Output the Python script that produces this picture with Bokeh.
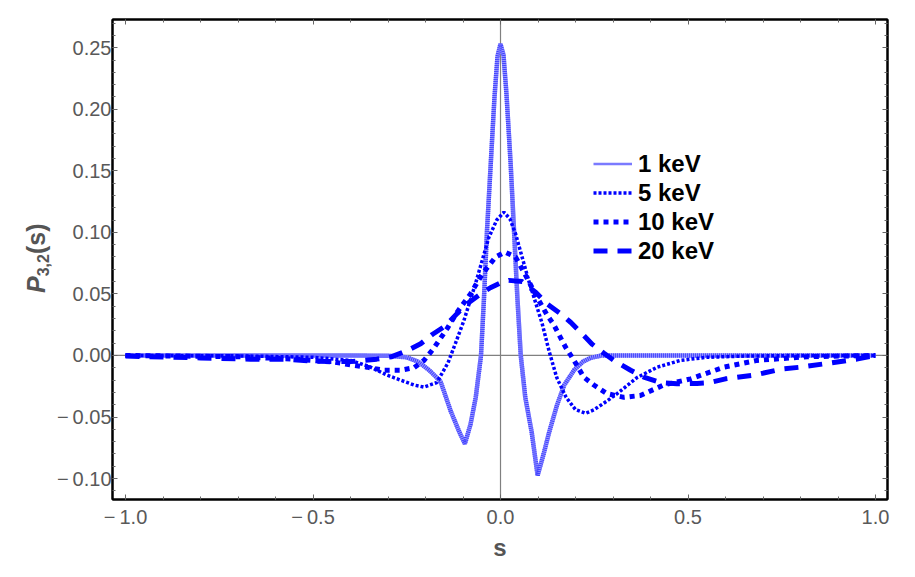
import numpy as np
from bokeh.plotting import figure
from bokeh.layouts import row
from bokeh.models import (Range1d, LinearAxis, FixedTicker, CustomJSTickFormatter,
                          Span, Legend, LegendItem, Div)
from bokeh.embed import file_html
from bokeh.resources import INLINE

# ---- data ----
s_1kev = [-1.0, -0.6, -0.4, -0.3, -0.25, -0.22, -0.19, -0.16, -0.133, -0.11, -0.095, -0.08,
          -0.066, -0.052, -0.044, -0.036, -0.026, -0.016, -0.008, 0.0, 0.008, 0.016, 0.027,
          0.036, 0.045, 0.054, 0.066, 0.083, 0.099, 0.115, 0.13, 0.151, 0.17, 0.196, 0.22,
          0.24, 0.27, 0.35, 0.5, 0.7, 1.0]
p_1kev = [0.0, 0.0, 0.0, -0.0003, -0.0015, -0.005, -0.012, -0.021, -0.045, -0.062, -0.0717,
          -0.056, -0.034, 0.0, 0.047, 0.1015, 0.156, 0.21, 0.243, 0.253, 0.244, 0.212, 0.156,
          0.1015, 0.047, 0.0, -0.034, -0.062, -0.0975, -0.080, -0.062, -0.040, -0.024,
          -0.012, -0.005, -0.002, 0.0, 0.0, 0.0, 0.0, 0.0]

s_5kev = [-1.0, -0.7, -0.5, -0.4, -0.35, -0.302, -0.267, -0.231, -0.204, -0.17, -0.14, -0.12,
          -0.098, -0.067, -0.031, -0.01, 0.009, 0.025, 0.04, 0.075, 0.111, 0.13, 0.15, 0.175,
          0.2, 0.227, 0.25, 0.284, 0.311, 0.364, 0.418, 0.48, 0.55, 0.65, 0.8, 1.0]
p_5kev = [0.0, -0.0003, -0.0015, -0.004, -0.009, -0.016, -0.020, -0.024, -0.0257, -0.022,
          -0.006, 0.010, 0.028, 0.058, 0.096, 0.110, 0.1164, 0.111, 0.099, 0.061, 0.026,
          0.003, -0.018, -0.034, -0.044, -0.047, -0.044, -0.037, -0.031, -0.018, -0.0095,
          -0.004, -0.0015, -0.0005, 0.0, 0.0]

s_10kev = [-1.0, -0.7, -0.55, -0.444, -0.4, -0.356, -0.311, -0.267, -0.231, -0.204, -0.18,
           -0.142, -0.116, -0.08, -0.049, -0.013, 0.012, 0.04, 0.067, 0.098, 0.124, 0.142,
           0.173, 0.196, 0.222, 0.249, 0.284, 0.329, 0.373, 0.435, 0.507, 0.596, 0.684,
           0.818, 1.0]
p_10kev = [0.0, -0.001, -0.003, -0.0054, -0.0076, -0.0095, -0.012, -0.012, -0.010, -0.004,
           0.005, 0.022, 0.035, 0.050, 0.066, 0.080, 0.084, 0.080, 0.065, 0.047, 0.033,
           0.025, 0.007, -0.004, -0.0176, -0.024, -0.031, -0.034, -0.0325, -0.024, -0.019,
           -0.0095, -0.004, -0.001, 0.0]

s_20kev = [-1.0, -0.8, -0.667, -0.578, -0.5, -0.45, -0.4, -0.33, -0.29, -0.249, -0.213,
           -0.182, -0.147, -0.116, -0.089, -0.053, -0.027, 0.0, 0.022, 0.058, 0.095, 0.124,
           0.16, 0.187, 0.213, 0.245, 0.275, 0.307, 0.347, 0.382, 0.427, 0.471, 0.524,
           0.555, 0.6, 0.676, 0.75, 0.8, 0.87, 0.95, 1.0]
p_20kev = [-0.0005, -0.002, -0.003, -0.003, -0.0045, -0.005, -0.005, -0.003, -0.001, 0.004,
           0.0095, 0.017, 0.024, 0.034, 0.042, 0.05, 0.055, 0.059, 0.061, 0.060, 0.051,
           0.042, 0.034, 0.027, 0.019, 0.009, 0.002, -0.005, -0.012, -0.0176, -0.022,
           -0.023, -0.0227, -0.0222, -0.019, -0.016, -0.011, -0.0095, -0.0065, -0.003, 0.0]

labels = ["1 keV", "5 keV", "10 keV", "20 keV"]
x_major = [-1.0, -0.5, 0.0, 0.5, 1.0]
y_major = [-0.10, -0.05, 0.0, 0.05, 0.10, 0.15, 0.20, 0.25]
x_title = "s"

# ---- figure ----
FONT = "Liberation Sans"
GRAY = "#595959"
LABEL_GRAY = "#555555"
DIV_W = 40
p = figure(frame_width=775, frame_height=480,
           min_border_left=112 - DIV_W, min_border_right=20, min_border_top=19,
           min_border_bottom=70,
           x_range=Range1d(-1.0347, 1.032), y_range=Range1d(-0.117, 0.2729),
           output_backend="svg", toolbar_location=None)
p.background_fill_color = "white"
p.border_fill_color = None
p.xgrid.visible = False
p.ygrid.visible = False
p.outline_line_color = "black"
p.outline_line_width = 2

x_minor = [round(v, 2) for v in np.arange(-1.1, 1.11, 0.1)]
y_minor = [round(v, 3) for v in np.arange(-0.12, 0.281, 0.01)]

fmt_x = CustomJSTickFormatter(code="""
const v = Math.abs(tick) < 1e-9 ? 0 : tick;
return (v < 0 ? '\\u2212\\u2009' : '') + Math.abs(v).toFixed(1);""")
fmt_y = CustomJSTickFormatter(code="""
const v = Math.abs(tick) < 1e-9 ? 0 : tick;
return (v < 0 ? '\\u2212\\u2009' : '') + Math.abs(v).toFixed(2);""")
fmt_none = CustomJSTickFormatter(code="return '';")


def style_axis(ax):
    ax.axis_line_color = "black"
    ax.axis_line_width = 2
    ax.major_tick_line_color = "#666666"
    ax.minor_tick_line_color = "#666666"
    ax.major_tick_in = 5
    ax.major_tick_out = 0
    ax.minor_tick_in = 3
    ax.minor_tick_out = 0
    ax.major_label_text_font = FONT
    ax.major_label_text_font_size = "20px"
    ax.major_label_text_color = GRAY


xa = p.xaxis[0]
xa.ticker = FixedTicker(ticks=x_major, minor_ticks=x_minor)
xa.formatter = fmt_x
style_axis(xa)
xa.major_label_standoff = 6
xa.axis_label = x_title
xa.axis_label_text_font = FONT
xa.axis_label_text_font_style = "bold"
xa.axis_label_text_font_size = "24px"
xa.axis_label_text_color = LABEL_GRAY
xa.axis_label_standoff = 3

ya = p.yaxis[0]
ya.ticker = FixedTicker(ticks=y_major, minor_ticks=y_minor)
ya.formatter = fmt_y
style_axis(ya)
ya.major_label_standoff = 1

top = LinearAxis(ticker=FixedTicker(ticks=x_major, minor_ticks=x_minor), formatter=fmt_none)
style_axis(top)
top.major_label_standoff = 0
p.add_layout(top, "above")
right = LinearAxis(ticker=FixedTicker(ticks=y_major, minor_ticks=y_minor), formatter=fmt_none)
style_axis(right)
right.major_label_standoff = 0
p.add_layout(right, "right")

# zero axes
p.add_layout(Span(location=0, dimension="height", line_color="#808080", line_width=1.2,
                  level="underlay"))
p.add_layout(Span(location=0, dimension="width", line_color="#808080", line_width=1.2,
                  level="underlay"))

# curves
# thin copy of the 1 keV curve, hidden under the wide one, used as its legend sample
r1_leg = p.line(s_1kev, p_1kev, line_color="#7a7aff", line_width=2.5)
p.line(s_1kev, p_1kev, line_color="#9a9aff", line_width=4.5)
p.line(s_1kev, p_1kev, line_color="#2a2aff", line_alpha=0.8, line_width=4.5, line_dash="1 1")
r5 = p.line(s_5kev, p_5kev, line_color="#0000ff", line_width=3.5, line_dash="3 2")
r10 = p.line(s_10kev, p_10kev, line_color="#0000ff", line_width=5, line_dash="5 5")
r20 = p.line(s_20kev, p_20kev, line_color="#0000ff", line_width=5, line_dash="14 10")

legend = Legend(items=[LegendItem(label=labels[0], renderers=[r1_leg]),
                       LegendItem(label=labels[1], renderers=[r5]),
                       LegendItem(label=labels[2], renderers=[r10]),
                       LegendItem(label=labels[3], renderers=[r20])],
                location=(481, 234), orientation="vertical",
                padding=0, margin=0, spacing=0,
                glyph_width=39, glyph_height=29, label_height=29, label_standoff=6,
                label_text_font=FONT, label_text_font_style="bold",
                label_text_font_size="24px", label_text_color="black",
                label_text_baseline="alphabetic",
                border_line_color=None, background_fill_alpha=0)
p.add_layout(legend)

# y-axis title as real (HTML) text with italic P and subscript
ylabel_html = (
    '<div style="position:relative;width:%dpx;height:569px;overflow:visible;">'
    '<div style="position:absolute;left:24px;top:293px;transform-origin:0 0;'
    'transform:rotate(-90deg);white-space:nowrap;font-family:\'Liberation Sans\';'
    'font-weight:bold;font-size:25px;line-height:25px;color:%s;">'
    '<i>P</i><span style="font-size:16px;vertical-align:-4px;">3,2</span>(s)'
    '</div></div>' % (DIV_W, LABEL_GRAY))
div = Div(text=ylabel_html, width=DIV_W, height=569, margin=0,
          styles={"overflow": "visible", "z-index": "5"})

layout = row(div, p, spacing=0)
open("out.html", "w", encoding="utf-8").write(file_html(layout, INLINE))
